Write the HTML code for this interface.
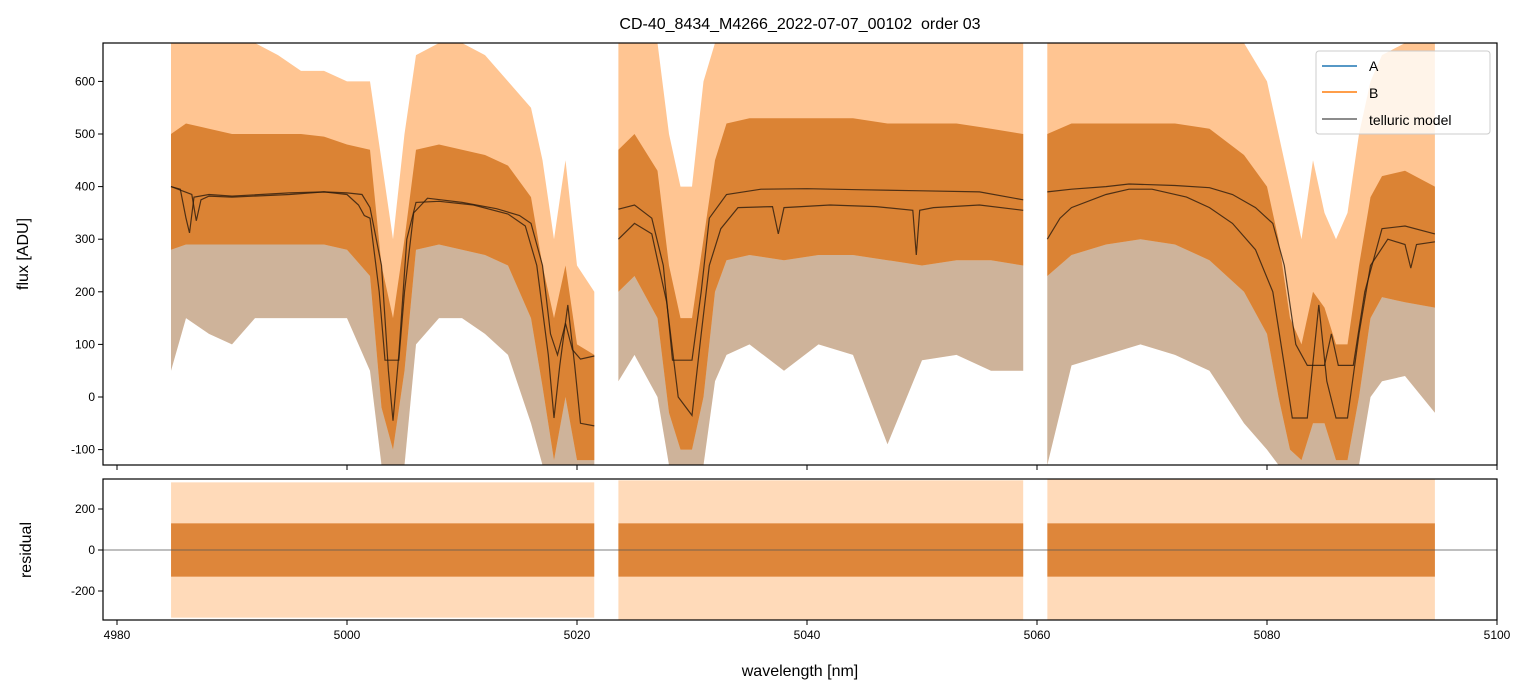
<!DOCTYPE html>
<html><head><meta charset="utf-8"><style>
html,body{margin:0;padding:0;background:#fff;}
svg{display:block;font-family:"Liberation Sans","DejaVu Sans",sans-serif;}
</style></head><body>
<svg id="chart" width="1531" height="696" viewBox="0 0 1531 696">
<rect width="1531" height="696" fill="#fff"/>
<text x="800" y="29" font-size="16" text-anchor="middle">CD-40_8434_M4266_2022-07-07_00102&#160; order 03</text>
<g id="topPanel"></g>
<g id="botPanel"></g>
<text x="800" y="676" font-size="16" text-anchor="middle">wavelength [nm]</text>
<text transform="translate(28,254) rotate(-90)" font-size="16" text-anchor="middle">flux [ADU]</text>
<text transform="translate(31,550) rotate(-90)" font-size="16" text-anchor="middle">residual</text>
<g>
<rect x="1316" y="51" width="174" height="83" rx="3" fill="#fff" fill-opacity="0.8" stroke="#ccc"/>
<line x1="1322" y1="66" x2="1357" y2="66" stroke="#1f77b4" stroke-width="1.5"/>
<text x="1369" y="71" font-size="14">A</text>
<line x1="1322" y1="92" x2="1357" y2="92" stroke="#ff7f0e" stroke-width="1.5"/>
<text x="1369" y="98" font-size="14">B</text>
<line x1="1322" y1="119" x2="1357" y2="119" stroke="#666" stroke-width="1.5"/>
<text x="1369" y="125" font-size="14">telluric model</text>
</g>
</svg>
<script>
const seg1Wl=[4984.7,4986,4988,4990,4992,4994,4996,4998,5000,5002,5003,5004,5005,5006,5008,5010,5012,5014,5016,5017,5018,5019,5020,5021.5];
const seg1CoreHi=[500,520,510,500,500,500,500,495,480,470,250,150,300,470,480,470,460,440,380,250,150,250,100,80];
const seg1CoreLo=[280,290,290,290,290,290,290,290,280,230,-20,-100,50,280,290,280,270,250,150,20,-120,0,-120,-120];
const seg1SpikeHi=[673,673,673,673,673,650,620,620,600,600,450,300,500,650,673,673,650,600,550,450,300,450,250,200];
const seg1SpikeLo=[50,150,120,100,150,150,150,150,150,50,-130,-130,-130,100,150,150,120,80,-50,-130,-130,-130,-130,-130];
const seg2Wl=[5023.6,5025,5027,5028,5029,5030,5031,5032,5033,5035,5038,5041,5044,5047,5050,5053,5056,5058.8];
const seg2CoreHi=[470,500,430,250,150,150,300,450,520,530,530,530,530,520,520,520,510,500];
const seg2CoreLo=[200,230,150,-30,-100,-100,0,200,260,270,260,270,270,260,250,260,260,250];
const seg2SpikeHi=[673,673,673,500,400,400,600,673,673,673,673,673,673,673,673,673,673,673];
const seg2SpikeLo=[30,80,0,-130,-130,-130,-130,30,80,100,50,100,80,-90,70,80,50,50];
const seg3Wl=[5060.9,5063,5066,5069,5072,5075,5078,5080,5081,5082,5083,5084,5085,5086,5087,5088,5089,5090,5092,5094.6];
const seg3CoreHi=[500,520,520,520,520,510,460,400,300,150,100,200,170,100,100,250,380,420,430,400];
const seg3CoreLo=[230,270,290,300,290,260,200,120,0,-100,-120,-50,-50,-120,-120,0,150,190,180,170];
const seg3SpikeHi=[673,673,673,673,673,673,673,600,500,400,300,450,350,300,350,500,600,650,673,673];
const seg3SpikeLo=[-130,60,80,100,80,50,-50,-100,-130,-130,-130,-130,-130,-130,-130,-130,0,30,40,-30];
const modA1Wl=[4984.7,4985.5,4986,4986.3,4986.7,4988,4990,4995,4998,5000,5001,5001.5,5002,5002.8,5003.3,5004.5,5005,5005.8,5007,5010,5013,5015,5016,5017,5017.7,5018.3,5019,5019.6,5020.3,5021.5];
const modA1=[400,395,340,312,380,385,382,388,390,385,365,345,340,200,70,70,200,350,378,370,358,345,330,250,120,80,140,90,72,78];
const modB1Wl=[4984.7,4986.5,4986.9,4987.3,4988,4990,4995,4998,5000,5001.3,5002,5003,5003.6,5004,5004.5,5005.2,5006,5008,5011,5014,5015.5,5016.5,5017.5,5018,5018.5,5019.2,5019.8,5020.3,5021.5];
const modB1=[400,385,335,375,382,380,385,390,388,385,360,250,50,-45,80,300,370,372,365,348,325,250,80,-40,60,175,60,-50,-55];
const modA2Wl=[5023.6,5025,5026.5,5027.5,5028.3,5030,5030.8,5031.5,5033,5036,5040,5045,5050,5055,5058.8];
const modA2=[357,365,340,250,70,70,200,340,385,395,396,394,392,390,375];
const modB2Wl=[5023.6,5025,5026.5,5027.8,5028.8,5030,5030.8,5031.5,5032.5,5034,5037,5037.5,5038,5042,5046,5049.2,5049.5,5049.8,5051,5055,5058.8];
const modB2=[300,330,310,180,0,-35,120,250,320,360,362,310,360,365,362,355,270,355,360,365,355];
const modA3Wl=[5060.9,5063,5066,5068,5072,5075,5077,5079,5080.5,5081.5,5082.5,5083.5,5085,5085.6,5086.2,5087.5,5088.5,5090,5092,5094.6];
const modA3=[390,395,400,405,402,398,385,360,330,250,100,60,60,120,60,60,200,320,325,310];
const modB3Wl=[5060.9,5062,5063,5066,5068,5070,5073,5075,5077,5079,5080.5,5081.5,5082.2,5083.5,5084.5,5085.2,5086,5087,5088,5089,5090.5,5092,5092.5,5093,5094.6];
const modB3=[300,340,360,385,395,395,380,360,330,280,200,60,-40,-40,175,30,-40,-40,120,250,300,290,245,290,295];
const resSegs=[[4984.7,5021.5],[5023.6,5058.8],[5060.9,5094.6]];
const resCore=[130,130,130];
const resSpike=[330,340,345];
const xTicks=[4980,5000,5020,5040,5060,5080,5100];
const yTicks=[-100,0,100,200,300,400,500,600];
const rTicks=[-200,0,200];
const X0=103,X1=1497,T0=43,T1=465,B0=479,B1=620;
const xs=w=>117+(w-4980)*11.5;
const ys=v=>Math.max(T0,Math.min(T1,397-v*0.526));
const rs=v=>Math.max(B0,Math.min(B1,550-v*0.205));
const NS='http://www.w3.org/2000/svg';
function mk(tag,attrs,parent){const e=document.createElementNS(NS,tag);for(const k in attrs)e.setAttribute(k,attrs[k]);parent.appendChild(e);return e;}
const gTop=document.getElementById('topPanel'),gBot=document.getElementById('botPanel');
function band(wl,hi,lo,fill,op,name){
  let d='M'+wl.map((w,i)=>xs(w).toFixed(1)+','+ys(hi[i]).toFixed(1)).join('L');
  for(let i=wl.length-1;i>=0;i--)d+='L'+xs(wl[i]).toFixed(1)+','+ys(lo[i]).toFixed(1);
  const p=mk('path',{d:d+'Z',fill:fill,'fill-opacity':op},gTop);
  
  
}
function line(wl,v,name){
  const p=mk('polyline',{points:wl.map((w,i)=>xs(w).toFixed(1)+','+ys(v[i]).toFixed(1)).join(' '),fill:'none',stroke:'#2a1a0c','stroke-opacity':0.8,'stroke-width':1.2},gTop);
  
  
}
const segs=[[seg1Wl,seg1CoreHi,seg1CoreLo,seg1SpikeHi,seg1SpikeLo],[seg2Wl,seg2CoreHi,seg2CoreLo,seg2SpikeHi,seg2SpikeLo],[seg3Wl,seg3CoreHi,seg3CoreLo,seg3SpikeHi,seg3SpikeLo]];
segs.forEach((s,k)=>{
  band(s[0],s[3],s[4],'#ff8c26',0.5,'series-b-spikes-'+(k+1));
  band(s[0],s[2],s[4],'#1f77b4',0.22,'series-a-spikes-'+(k+1));
  band(s[0],s[1],s[2],'#d9802f',0.95,'flux-core-'+(k+1));
});
line(modA1Wl,modA1,'telluric-a-1');line(modB1Wl,modB1,'telluric-b-1');
line(modA2Wl,modA2,'telluric-a-2');line(modB2Wl,modB2,'telluric-b-2');
line(modA3Wl,modA3,'telluric-a-3');line(modB3Wl,modB3,'telluric-b-3');
resSegs.forEach((s,k)=>{
  const x=xs(s[0]),w=xs(s[1])-xs(s[0]);
  let r=mk('rect',{x:x,y:rs(resSpike[k]),width:w,height:rs(-resSpike[k])-rs(resSpike[k]),fill:'#ff8c26','fill-opacity':0.32},gBot);
  
  
  r=mk('rect',{x:x,y:rs(resCore[k]),width:w,height:rs(-resCore[k])-rs(resCore[k]),fill:'#dc8233','fill-opacity':0.95},gBot);
  
  
});
mk('line',{x1:X0,x2:X1,y1:rs(0),y2:rs(0),stroke:'#555','stroke-width':0.7},gBot);
mk('rect',{x:X0,y:T0,width:X1-X0,height:T1-T0,fill:'none',stroke:'#000','stroke-width':1.2},gTop);
mk('rect',{x:X0,y:B0,width:X1-X0,height:B1-B0,fill:'none',stroke:'#000','stroke-width':1.2},gBot);
xTicks.forEach(t=>{
  mk('line',{x1:xs(t),x2:xs(t),y1:T1,y2:T1+5,stroke:'#000'},gTop);
  mk('line',{x1:xs(t),x2:xs(t),y1:B1,y2:B1+5,stroke:'#000'},gBot);
  const tx=mk('text',{x:xs(t),y:B1+19,'font-size':12,'text-anchor':'middle'},gBot);tx.textContent=t;
  
  
});
yTicks.forEach(t=>{
  const y=397-t*0.526;
  mk('line',{x1:X0-5,x2:X0,y1:y,y2:y,stroke:'#000'},gTop);
  const tx=mk('text',{x:X0-8,y:y+4,'font-size':12,'text-anchor':'end'},gTop);tx.textContent=t;
  
  
});
rTicks.forEach(t=>{
  const y=rs(t);
  mk('line',{x1:X0-5,x2:X0,y1:y,y2:y,stroke:'#000'},gBot);
  const tx=mk('text',{x:X0-8,y:y+4,'font-size':12,'text-anchor':'end'},gBot);tx.textContent=t;
  
  
});
</script>
</body></html>
